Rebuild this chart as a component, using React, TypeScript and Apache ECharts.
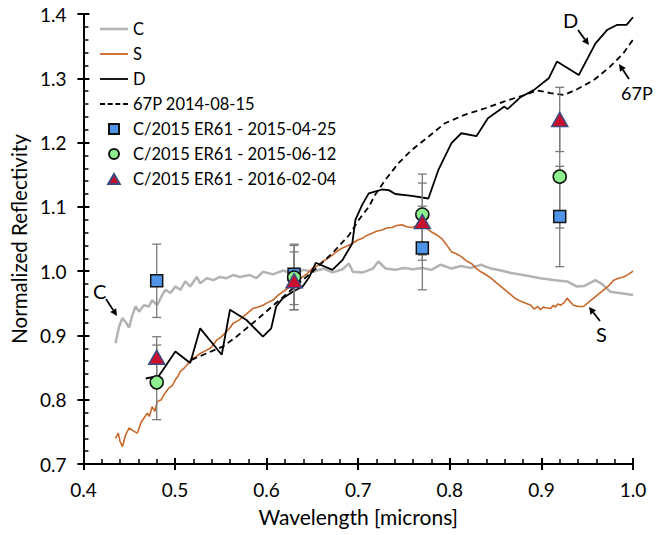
import React, { useEffect, useRef } from "react";
import * as echarts from "echarts";

// ---- Data ----
const cWave = [0.435, 0.439, 0.4425, 0.446, 0.4498, 0.4535, 0.457, 0.4607, 0.466, 0.4715, 0.475, 0.4805, 0.486, 0.4896, 0.495, 0.5004, 0.5058, 0.5112, 0.5166, 0.5238, 0.5275, 0.5346, 0.5419, 0.549, 0.5563, 0.5635, 0.5708, 0.5816, 0.5888, 0.596, 0.607, 0.618, 0.629, 0.64, 0.651, 0.662, 0.672, 0.683, 0.69, 0.694, 0.705, 0.716, 0.722, 0.73, 0.74, 0.75, 0.76, 0.77, 0.78, 0.79, 0.802, 0.812, 0.823, 0.834, 0.845, 0.856, 0.867, 0.88, 0.899, 0.915, 0.928, 0.939, 0.947, 0.959, 0.967, 0.975, 0.985, 1.0];
const cRefl = [0.888, 0.914, 0.927, 0.921, 0.912, 0.932, 0.945, 0.937, 0.947, 0.945, 0.955, 0.947, 0.963, 0.971, 0.966, 0.976, 0.971, 0.984, 0.976, 0.991, 0.981, 0.989, 0.986, 0.991, 0.989, 0.994, 0.991, 0.994, 0.989, 0.999, 0.995, 1.001, 0.996, 1.002, 0.999, 1.004, 0.998, 1.003, 1.012, 0.999, 0.998, 1.004, 1.015, 1.004, 1.002, 1.005, 1.003, 1.005, 1.002, 1.01, 1.004, 1.008, 1.005, 1.01, 1.004, 1.001, 0.997, 0.994, 0.989, 0.986, 0.984, 0.976, 0.977, 0.986, 0.979, 0.968, 0.966, 0.963];

const sWave = [0.435, 0.438, 0.44, 0.4426, 0.446, 0.4498, 0.454, 0.4588, 0.463, 0.4697, 0.472, 0.475, 0.478, 0.4805, 0.485, 0.488, 0.4931, 0.497, 0.5004, 0.503, 0.5058, 0.51, 0.514, 0.5184, 0.522, 0.5275, 0.533, 0.5383, 0.542, 0.5455, 0.55, 0.5563, 0.56, 0.5635, 0.569, 0.5744, 0.58, 0.5852, 0.59, 0.596, 0.601, 0.607, 0.612, 0.6177, 0.623, 0.6285, 0.634, 0.6394, 0.645, 0.65, 0.655, 0.661, 0.666, 0.6718, 0.677, 0.6827, 0.688, 0.6935, 0.699, 0.7043, 0.71, 0.7152, 0.72, 0.726, 0.731, 0.7368, 0.742, 0.7477, 0.753, 0.7585, 0.764, 0.769, 0.775, 0.78, 0.785, 0.791, 0.796, 0.8018, 0.807, 0.8126, 0.818, 0.8235, 0.829, 0.834, 0.84, 0.845, 0.85, 0.856, 0.861, 0.8668, 0.872, 0.8776, 0.883, 0.8885, 0.892, 0.896, 0.899, 0.902, 0.905, 0.9101, 0.913, 0.915, 0.918, 0.921, 0.925, 0.928, 0.931, 0.935, 0.94, 0.946, 0.951, 0.957, 0.962, 0.968, 0.974, 0.979, 0.984, 0.9895, 0.995, 1.0];
const sRefl = [0.74, 0.748, 0.735, 0.727, 0.745, 0.756, 0.752, 0.748, 0.765, 0.779, 0.774, 0.789, 0.782, 0.797, 0.8, 0.808, 0.818, 0.822, 0.831, 0.836, 0.844, 0.849, 0.856, 0.8645, 0.866, 0.872, 0.876, 0.88, 0.886, 0.893, 0.897, 0.906, 0.912, 0.919, 0.923, 0.929, 0.936, 0.942, 0.944, 0.947, 0.951, 0.955, 0.962, 0.968, 0.973, 0.981, 0.985, 0.991, 0.997, 1.0045, 1.008, 1.015, 1.019, 1.025, 1.031, 1.036, 1.039, 1.043, 1.048, 1.051, 1.056, 1.059, 1.062, 1.064, 1.067, 1.068, 1.071, 1.072, 1.069, 1.068, 1.071, 1.069, 1.066, 1.061, 1.057, 1.051, 1.042, 1.03, 1.027, 1.0226, 1.016, 1.012, 1.004, 0.999, 0.994, 0.989, 0.983, 0.976, 0.97, 0.963, 0.957, 0.953, 0.95, 0.947, 0.941, 0.945, 0.94, 0.944, 0.943, 0.942, 0.947, 0.944, 0.949, 0.947, 0.951, 0.958, 0.953, 0.947, 0.945, 0.945, 0.951, 0.958, 0.964, 0.971, 0.978, 0.986, 0.989, 0.991, 0.995, 1.0];

const dWave = [0.468, 0.4823, 0.5004, 0.5166, 0.5275, 0.551, 0.56, 0.578, 0.596, 0.605, 0.6104, 0.6177, 0.6285, 0.6394, 0.6466, 0.6537, 0.6718, 0.6827, 0.6935, 0.697, 0.7043, 0.7115, 0.726, 0.7333, 0.7405, 0.7585, 0.7766, 0.7874, 0.8018, 0.8126, 0.829, 0.8416, 0.8596, 0.863, 0.8776, 0.892, 0.908, 0.917, 0.9408, 0.9589, 0.9716, 0.9824, 0.993, 1.0];
const dRefl = [0.833, 0.837, 0.875, 0.857, 0.911, 0.87, 0.94, 0.924, 0.898, 0.911, 0.945, 0.958, 0.968, 0.976, 0.991, 1.013, 1.002, 1.017, 1.043, 1.08, 1.103, 1.121, 1.127, 1.126, 1.12, 1.117, 1.113, 1.157, 1.199, 1.2145, 1.21, 1.238, 1.256, 1.252, 1.271, 1.282, 1.3, 1.326, 1.305, 1.354, 1.375, 1.383, 1.383, 1.395];

const pWave = [0.518, 0.531, 0.5527, 0.567, 0.589, 0.61, 0.6285, 0.65, 0.6718, 0.69, 0.7007, 0.7115, 0.719, 0.7296, 0.744, 0.7585, 0.7766, 0.7946, 0.816, 0.838, 0.8596, 0.8813, 0.8957, 0.91, 0.9246, 0.939, 0.957, 0.975, 0.9895, 1.0];
const pRefl = [0.862, 0.87, 0.883, 0.898, 0.924, 0.95, 0.973, 0.999, 1.028, 1.056, 1.08, 1.1, 1.12, 1.142, 1.168, 1.1885, 1.209, 1.23, 1.243, 1.253, 1.264, 1.274, 1.281, 1.277, 1.274, 1.283, 1.297, 1.318, 1.339, 1.36];

const obsWave = [0.48, 0.63, 0.77, 0.92];
const obs1Refl = [0.985, 0.995, 1.036, 1.085];
const obs1Err = [0.057, 0.047, 0.065, 0.078];
const obs2Refl = [0.827, 0.99, 1.088, 1.147];
const obs2Err = [0.058, 0.05, 0.063, 0.08];
const obs3Refl = [0.866, 0.985, 1.077, 1.236];
const obs3Err = [0.032, 0.045, 0.06, 0.05];

const xTicks = { min: 0.4, max: 1.0, interval: 0.1 };
const yTicks = { min: 0.7, max: 1.4, interval: 0.1 };

const FONT = "Lato";

const pairs = (xs: number[], ys: number[]) => xs.map((x, i) => [x, ys[i]]);
const errRows = (xs: number[], ys: number[], es: number[]) => xs.map((x, i) => [x, ys[i] - es[i], ys[i] + es[i]]);

function arrow(x1: number, y1: number, x2: number, y2: number) {
  const ang = Math.atan2(y2 - y1, x2 - x1);
  const L = 7, W = 3.5;
  const bx = x2 - L * Math.cos(ang), by = y2 - L * Math.sin(ang);
  const nx = -Math.sin(ang), ny = Math.cos(ang);
  return [
    { type: "line", shape: { x1, y1, x2: bx, y2: by }, style: { stroke: "#000", lineWidth: 1.8 } },
    { type: "polygon", shape: { points: [[x2, y2], [bx + nx * W, by + ny * W], [bx - nx * W, by - ny * W]] }, style: { fill: "#000" } },
  ];
}

const ICON_LINE_THICK = "path://M0,0L28,0L28,2.6L0,2.6Z";
const ICON_LINE = "path://M0,0L28,0L28,1.8L0,1.8Z";
const ICON_DASH = "path://M0,0h5v2h-5zM7.7,0h5v2h-5zM15.3,0h5v2h-5zM23,0h5v2h-5z";
const ICON_SQUARE = "path://M0,0L10,0L10,10L0,10Z";
const ICON_CIRCLE = "path://M5,0A5,5 0 1,1 5,10A5,5 0 1,1 5,0Z";
const ICON_TRI = "path://M5,0L10.5,9.5L-0.5,9.5Z";

export default function App() {
  const ref = useRef<HTMLDivElement>(null);
  useEffect(() => {
    if (!ref.current) return;
    const chart = echarts.init(ref.current, undefined, { renderer: "svg" });
    const errRender = (params: any, api: any) => {
      const x = api.value(0);
      const lo = api.coord([x, api.value(1)]);
      const hi = api.coord([x, api.value(2)]);
      const c = 4.5;
      const st = { stroke: "#7a7a7a", lineWidth: 1.3 };
      return {
        type: "group",
        children: [
          { type: "line", shape: { x1: hi[0], y1: hi[1], x2: lo[0], y2: lo[1] }, style: st },
          { type: "line", shape: { x1: hi[0] - c, y1: hi[1], x2: hi[0] + c, y2: hi[1] }, style: st },
          { type: "line", shape: { x1: lo[0] - c, y1: lo[1], x2: lo[0] + c, y2: lo[1] }, style: st },
        ],
      };
    };
    const axisLabelStyle = { fontFamily: FONT, fontSize: 19, color: "#000" };
    const baseX = { type: "value", min: xTicks.min, max: xTicks.max, interval: xTicks.interval, position: "bottom", splitLine: { show: false } };
    const baseY = { type: "value", min: yTicks.min, max: yTicks.max, interval: yTicks.interval, position: "left", splitLine: { show: false } };
    chart.setOption({
      animation: false,
      grid: { left: 79, right: 24, top: 14, bottom: 71, containLabel: false },
      legend: {
        orient: "vertical",
        left: 100,
        top: 19,
        padding: 0,
        itemWidth: 28,
        itemHeight: 10,
        itemGap: 5,
        symbolKeepAspect: true,
        textStyle: { fontFamily: FONT, fontSize: 16.5, color: "#000", lineHeight: 20 },
        data: [
          { name: "C", icon: ICON_LINE_THICK, itemStyle: { color: "#b3b3b3", borderWidth: 0 } },
          { name: "S", icon: ICON_LINE, itemStyle: { color: "#c8682a", borderWidth: 0 } },
          { name: "D", icon: ICON_LINE, itemStyle: { color: "#000", borderWidth: 0 } },
          { name: "67P 2014-08-15", icon: ICON_DASH, itemStyle: { color: "#000", borderWidth: 0 } },
          { name: "C/2015 ER61 - 2015-04-25", icon: ICON_SQUARE },
          { name: "C/2015 ER61 - 2015-06-12", icon: ICON_CIRCLE },
          { name: "C/2015 ER61 - 2016-02-04", icon: ICON_TRI },
        ],
      },
      xAxis: [
        {
          ...baseX,
          axisLine: { lineStyle: { color: "#000", width: 2 } },
          axisTick: { inside: true, length: 6, lineStyle: { color: "#000", width: 2 } },
          minorTick: { show: true, splitNumber: 5, length: 5, lineStyle: { color: "#000", width: 1.5 } },
          axisLabel: { ...axisLabelStyle, margin: 16, formatter: (v: number) => v.toFixed(1) },
          name: "Wavelength [microns]",
          nameLocation: "middle",
          nameGap: 42,
          nameTextStyle: { fontFamily: FONT, fontSize: 21, color: "#000" },
        },
        {
          ...baseX,
          axisLine: { show: false },
          axisTick: { inside: false, length: 6, lineStyle: { color: "#000", width: 2 } },
          axisLabel: { show: false },
        },
      ],
      yAxis: [
        {
          ...baseY,
          axisLine: { lineStyle: { color: "#000", width: 2 } },
          axisTick: { inside: true, length: 6, lineStyle: { color: "#000", width: 2 } },
          minorTick: { show: true, splitNumber: 5, length: 5, lineStyle: { color: "#000", width: 1.5 } },
          axisLabel: { ...axisLabelStyle, margin: 17, formatter: (v: number) => v.toFixed(1) },
          name: "Normalized Reflectivity",
          nameLocation: "middle",
          nameGap: 48,
          nameTextStyle: { fontFamily: FONT, fontSize: 20.5, color: "#000" },
        },
        {
          ...baseY,
          axisLine: { show: false },
          axisTick: { inside: false, length: 6, lineStyle: { color: "#000", width: 2 } },
          axisLabel: { show: false },
        },
      ],
      series: [
        { name: "C", type: "line", data: pairs(cWave, cRefl), showSymbol: false, symbol: "none", lineStyle: { color: "#b3b3b3", width: 2.5 }, itemStyle: { color: "#b3b3b3" }, z: 2 },
        { name: "S", type: "line", data: pairs(sWave, sRefl), showSymbol: false, symbol: "none", lineStyle: { color: "#c8682a", width: 1.6 }, itemStyle: { color: "#c8682a" }, z: 2 },
        { name: "D", type: "line", data: pairs(dWave, dRefl), showSymbol: false, symbol: "none", lineStyle: { color: "#000", width: 1.8 }, itemStyle: { color: "#000" }, z: 3 },
        { name: "67P 2014-08-15", type: "line", data: pairs(pWave, pRefl), showSymbol: false, symbol: "none", lineStyle: { color: "#000", width: 1.8, type: [6, 4] }, itemStyle: { color: "#000" }, z: 3 },
        { name: "err1", type: "custom", renderItem: errRender, data: errRows(obsWave, obs1Refl, obs1Err), encode: { x: 0, y: [1, 2] }, z: 4 },
        { name: "err2", type: "custom", renderItem: errRender, data: errRows(obsWave, obs2Refl, obs2Err), encode: { x: 0, y: [1, 2] }, z: 4 },
        { name: "err3", type: "custom", renderItem: errRender, data: errRows(obsWave, obs3Refl, obs3Err), encode: { x: 0, y: [1, 2] }, z: 4 },
        { name: "C/2015 ER61 - 2015-04-25", type: "scatter", data: pairs(obsWave, obs1Refl), symbol: "rect", symbolSize: 12, itemStyle: { color: "#4f94e6", borderColor: "#111", borderWidth: 1.5, opacity: 1 }, z: 5 },
        { name: "C/2015 ER61 - 2015-06-12", type: "scatter", data: pairs(obsWave, obs2Refl), symbol: "circle", symbolSize: 13, itemStyle: { color: "#8ff08f", borderColor: "#111", borderWidth: 1.5, opacity: 1 }, z: 6 },
        { name: "C/2015 ER61 - 2016-02-04", type: "scatter", data: pairs(obsWave, obs3Refl), symbol: "triangle", symbolSize: [16, 14], itemStyle: { color: "#c8102e", borderColor: "#3b4a80", borderWidth: 1.5, opacity: 1 }, z: 7 },
      ],
      graphic: [
        { type: "text", left: 93, top: 281, style: { text: "C", fontFamily: FONT, fontSize: 20, fill: "#000" } },
        ...arrow(106, 299, 117, 316),
        { type: "text", left: 596, top: 324, style: { text: "S", fontFamily: FONT, fontSize: 20, fill: "#000" } },
        ...arrow(600, 321, 589, 307),
        { type: "text", left: 563, top: 10, style: { text: "D", fontFamily: FONT, fontSize: 20, fill: "#000" } },
        ...arrow(578, 30, 589, 45),
        { type: "text", left: 621, top: 84, style: { text: "67P", fontFamily: FONT, fontSize: 18, fill: "#000" } },
        ...arrow(629, 79, 619, 64),
      ],
    });
    return () => chart.dispose();
  }, []);
  return <div ref={ref} style={{ position: "fixed", left: 0, top: 0, width: 657, height: 535, background: "#fff" }} />;
}
